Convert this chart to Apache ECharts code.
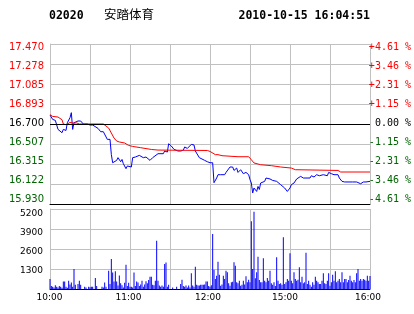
<!DOCTYPE html>
<html><head><meta charset="utf-8">
<script src="https://cdn.jsdelivr.net/npm/echarts@6/dist/echarts.min.js"></script>
<style>html,body{margin:0;padding:0;background:#fff;}#c{width:414px;height:314px;}</style>
</head><body><div id="c"></div>
<script>
// ---- header ----
const stockCode = '02020';
const stockName = '安踏体育';
const stamp = '2010-10-15 16:04:51';
const prevClose = 16.700;

// ---- tick labels ----
const priceTickLabels = ['15.930','16.122','16.315','16.507','16.700','16.893','17.085','17.278','17.470'];
const pctTickLabels = ['-4.61 %','-3.46 %','-2.31 %','-1.15 %',' 0.00 %','+1.15 %','+2.31 %','+3.46 %','+4.61 %'];
const volTickLabels = ['','1300','2600','3900','5200'];
const timeTickMinutes = [0, 60, 120, 180, 240];
const timeTickLabels = ['10:00','11:00','12:00','15:00','16:00'];

// ---- price line (minute index from 10:00, trading minutes) ----
const priceMinutes = [0,2,4,6,7,9,10,12,13,15,16,17,18,19,21,23,24,25,28,30,32,33,36,38,40,41,43,45,46,47,48,50,51,53,54,55,57,58,59,61,62,64,67,70,72,75,77,81,85,86,88,89,91,93,96,98,100,101,103,106,108,109,110,112,113,116,118,120,122,123,125,126,127,128,131,132,135,137,138,140,141,143,145,147,149,150,151,152,153,155,156,157,158,161,162,165,167,170,171,173,176,178,179,180,181,183,185,186,188,190,192,195,196,198,200,202,205,206,208,209,210,211,213,216,217,219,221,227,228,230,231,233,235,236,237,238,240];
const prices = [16.787,16.744,16.735,16.648,16.648,16.616,16.648,16.638,16.712,16.761,16.809,16.648,16.712,16.729,16.729,16.729,16.712,16.700,16.700,16.690,16.690,16.671,16.658,16.626,16.626,16.626,16.552,16.552,16.407,16.327,16.327,16.350,16.376,16.337,16.359,16.318,16.270,16.296,16.305,16.286,16.376,16.382,16.398,16.376,16.382,16.350,16.376,16.414,16.414,16.440,16.430,16.510,16.488,16.456,16.440,16.440,16.448,16.479,16.465,16.504,16.498,16.440,16.448,16.376,16.359,16.350,16.337,16.327,16.327,16.135,16.180,16.212,16.193,16.212,16.212,16.234,16.286,16.286,16.253,16.276,16.234,16.260,16.222,16.234,16.212,16.164,16.132,16.036,16.084,16.051,16.099,16.070,16.132,16.148,16.180,16.171,16.157,16.148,16.132,16.116,16.084,16.051,16.042,16.084,16.116,16.132,16.171,16.157,16.196,16.180,16.180,16.180,16.202,16.190,16.212,16.202,16.212,16.196,16.202,16.234,16.244,16.222,16.212,16.212,16.180,16.148,16.142,16.142,16.154,16.142,16.132,16.125,16.142,16.125,16.142,16.132,16.148];

// ---- average price line ----
const avgMinutes = [0,2,6,9,10,12,15,17,20,22,40,41,44,46,48,50,52,56,59,62,68,76,81,118,120,121,124,126,129,141,149,151,153,158,166,173,181,184,216,218,240];
const avgPrices = [16.790,16.773,16.767,16.741,16.700,16.693,16.715,16.710,16.710,16.700,16.700,16.693,16.661,16.613,16.565,16.536,16.527,16.517,16.494,16.484,16.472,16.455,16.449,16.445,16.436,16.421,16.405,16.405,16.395,16.385,16.385,16.356,16.325,16.308,16.299,16.286,16.276,16.260,16.253,16.238,16.238];

// ---- volume per minute (0..240) ----
const volumes = [
650,200,150,100,250,150,100,200,150,80,
480,480,150,80,540,300,430,150,1300,280,
0,320,540,280,0,0,150,100,0,150,
120,150,150,0,720,200,0,0,0,150,
100,430,150,0,1190,320,1950,1080,480,1150,
480,220,870,370,250,100,400,1580,200,400,
150,150,100,1080,200,480,430,200,300,540,
150,300,500,370,590,800,800,280,250,540,
3140,540,220,150,220,150,1625,1730,150,280,
0,0,100,0,0,150,0,0,320,600,
200,150,220,100,220,100,1020,220,150,1450,
280,220,220,280,280,280,300,480,480,200,
150,250,3575,1257,650,867,1777,932,217,300,
867,650,1190,1083,368,217,433,477,1733,1517,
433,368,542,217,282,542,300,823,433,607,
433,4399,1300,5027,700,1083,2102,585,433,433,
1993,542,433,715,542,1192,368,282,433,200,
2058,542,325,368,282,3358,325,433,650,542,
2318,542,368,1083,650,542,607,1408,433,802,
368,433,2362,325,542,282,150,433,282,802,
542,433,325,325,542,1018,368,325,542,1018,
217,433,932,542,1148,433,542,650,433,1083,
433,650,650,433,585,867,542,433,585,433,
1018,1300,542,650,542,650,607,542,867,542,845];

const GRID = '#c0c0c0';
const RED = '#ff0000', GREEN = '#006400', BLACK = '#000000';
const priceRange = 0.77, priceStep = 0.1925;
const labelColor = (i) => i < 4 ? GREEN : (i === 4 ? BLACK : RED);

const chart = echarts.init(document.getElementById('c'), null, {renderer: 'canvas'});
const hdr = {fontFamily: 'DejaVu Sans Mono', fontWeight: 'bold', fontSize: 11.5, color: '#000'};
const timeShift = {'10:00': 1, '11:00': 3, '12:00': 4, '15:00': 10, '16:00': 4};
const rich = {};
timeTickLabels.forEach((t, k) => { rich['t' + k] = {padding: [0, timeShift[t], 0, 0], fontFamily: 'DejaVu Sans', fontSize: 9, color: '#000'}; });

chart.setOption({
  animation: false,
  backgroundColor: '#fff',
  title: [
    {text: stockCode, left: 49, top: 10, padding: 0, textStyle: hdr},
    {text: stockName, left: 104, top: 8, padding: 0, textStyle: {fontFamily: 'Noto Sans CJK SC', fontWeight: 'normal', fontSize: 12.5, color: '#000'}},
    {text: stamp, right: 44, top: 10, padding: 0, textStyle: hdr}
  ],
  grid: [
    {left: 50, top: 44, width: 320, height: 160},
    {left: 50, top: 209, width: 320, height: 80},
    {left: 50, top: 47.5, width: 320, height: 152.2},
    {left: 50, top: 213.3, width: 320, height: 76}
  ],
  xAxis: [
    {gridIndex: 0, type: 'value', min: 0, max: 240, interval: 30,
     axisLine: {show: true, onZero: false, lineStyle: {color: BLACK}}, axisTick: {show: false}, axisLabel: {show: false},
     splitLine: {show: true, lineStyle: {color: GRID}}},
    {gridIndex: 1, type: 'value', min: 0, max: 240, interval: 30,
     axisLine: {show: true, onZero: false, lineStyle: {color: BLACK}}, axisTick: {show: false},
     axisLabel: {show: true, margin: 4, rich: rich,
       formatter: (v) => { const k = timeTickMinutes.indexOf(Math.round(v)); return k < 0 ? '' : '{t' + k + '|' + timeTickLabels[k] + '}'; }},
     splitLine: {show: true, lineStyle: {color: GRID}}},
    {gridIndex: 2, type: 'value', min: 0, max: 1, show: false},
    {gridIndex: 3, type: 'value', min: 0, max: 1, show: false}
  ],
  yAxis: [
    {gridIndex: 0, type: 'value', min: -priceRange, max: priceRange, interval: priceStep,
     axisLine: {show: true, onZero: false, lineStyle: {color: GRID}}, axisTick: {show: false}, axisLabel: {show: false},
     splitLine: {show: true, lineStyle: {color: GRID}}},
    {gridIndex: 1, type: 'value', min: 0, max: 5200, interval: 1300,
     axisLine: {show: true, onZero: false, lineStyle: {color: GRID}}, axisTick: {show: false}, axisLabel: {show: false},
     splitLine: {show: true, lineStyle: {color: GRID}}},
    {gridIndex: 2, type: 'value', position: 'left', min: -priceRange, max: priceRange, interval: priceStep,
     axisLine: {show: false}, axisTick: {show: false}, splitLine: {show: false},
     axisLabel: {margin: 6, fontFamily: 'DejaVu Sans', fontSize: 10,
       formatter: (v, i) => priceTickLabels[i], color: (v, i) => labelColor(i)}},
    {gridIndex: 2, type: 'value', position: 'right', min: -priceRange, max: priceRange, interval: priceStep,
     axisLine: {show: false}, axisTick: {show: false}, splitLine: {show: false},
     axisLabel: {margin: 2, fontFamily: 'DejaVu Sans Mono', fontSize: 10,
       formatter: (v, i) => pctTickLabels[i], color: (v, i) => labelColor(i)}},
    {gridIndex: 3, type: 'value', position: 'left', min: 0, max: 5200, interval: 1300,
     axisLine: {show: false}, axisTick: {show: false}, splitLine: {show: false},
     axisLabel: {margin: 7, fontFamily: 'DejaVu Sans', fontSize: 9, color: '#000',
       formatter: (v, i) => volTickLabels[i]}}
  ],
  series: [
    {type: 'line', xAxisIndex: 0, yAxisIndex: 0, z: 3,
     data: priceMinutes.map((m, i) => [m, +(prices[i] - prevClose).toFixed(4)]),
     showSymbol: false, symbol: 'none', lineStyle: {color: '#0000ff', width: 1}, silent: true,
     markLine: {silent: true, symbol: 'none', label: {show: false}, lineStyle: {color: BLACK, type: 'solid', width: 1},
       data: [{yAxis: 0}]}},
    {type: 'line', xAxisIndex: 0, yAxisIndex: 0, z: 4,
     data: avgMinutes.map((m, i) => [m, +(avgPrices[i] - prevClose).toFixed(4)]),
     showSymbol: false, symbol: 'none', lineStyle: {color: RED, width: 1}, silent: true},
    {type: 'bar', xAxisIndex: 1, yAxisIndex: 1, barWidth: 1,
     data: volumes.map((v, i) => [i, v]), itemStyle: {color: '#0000ff'}, silent: true}
  ]
});
</script>
</body></html>
